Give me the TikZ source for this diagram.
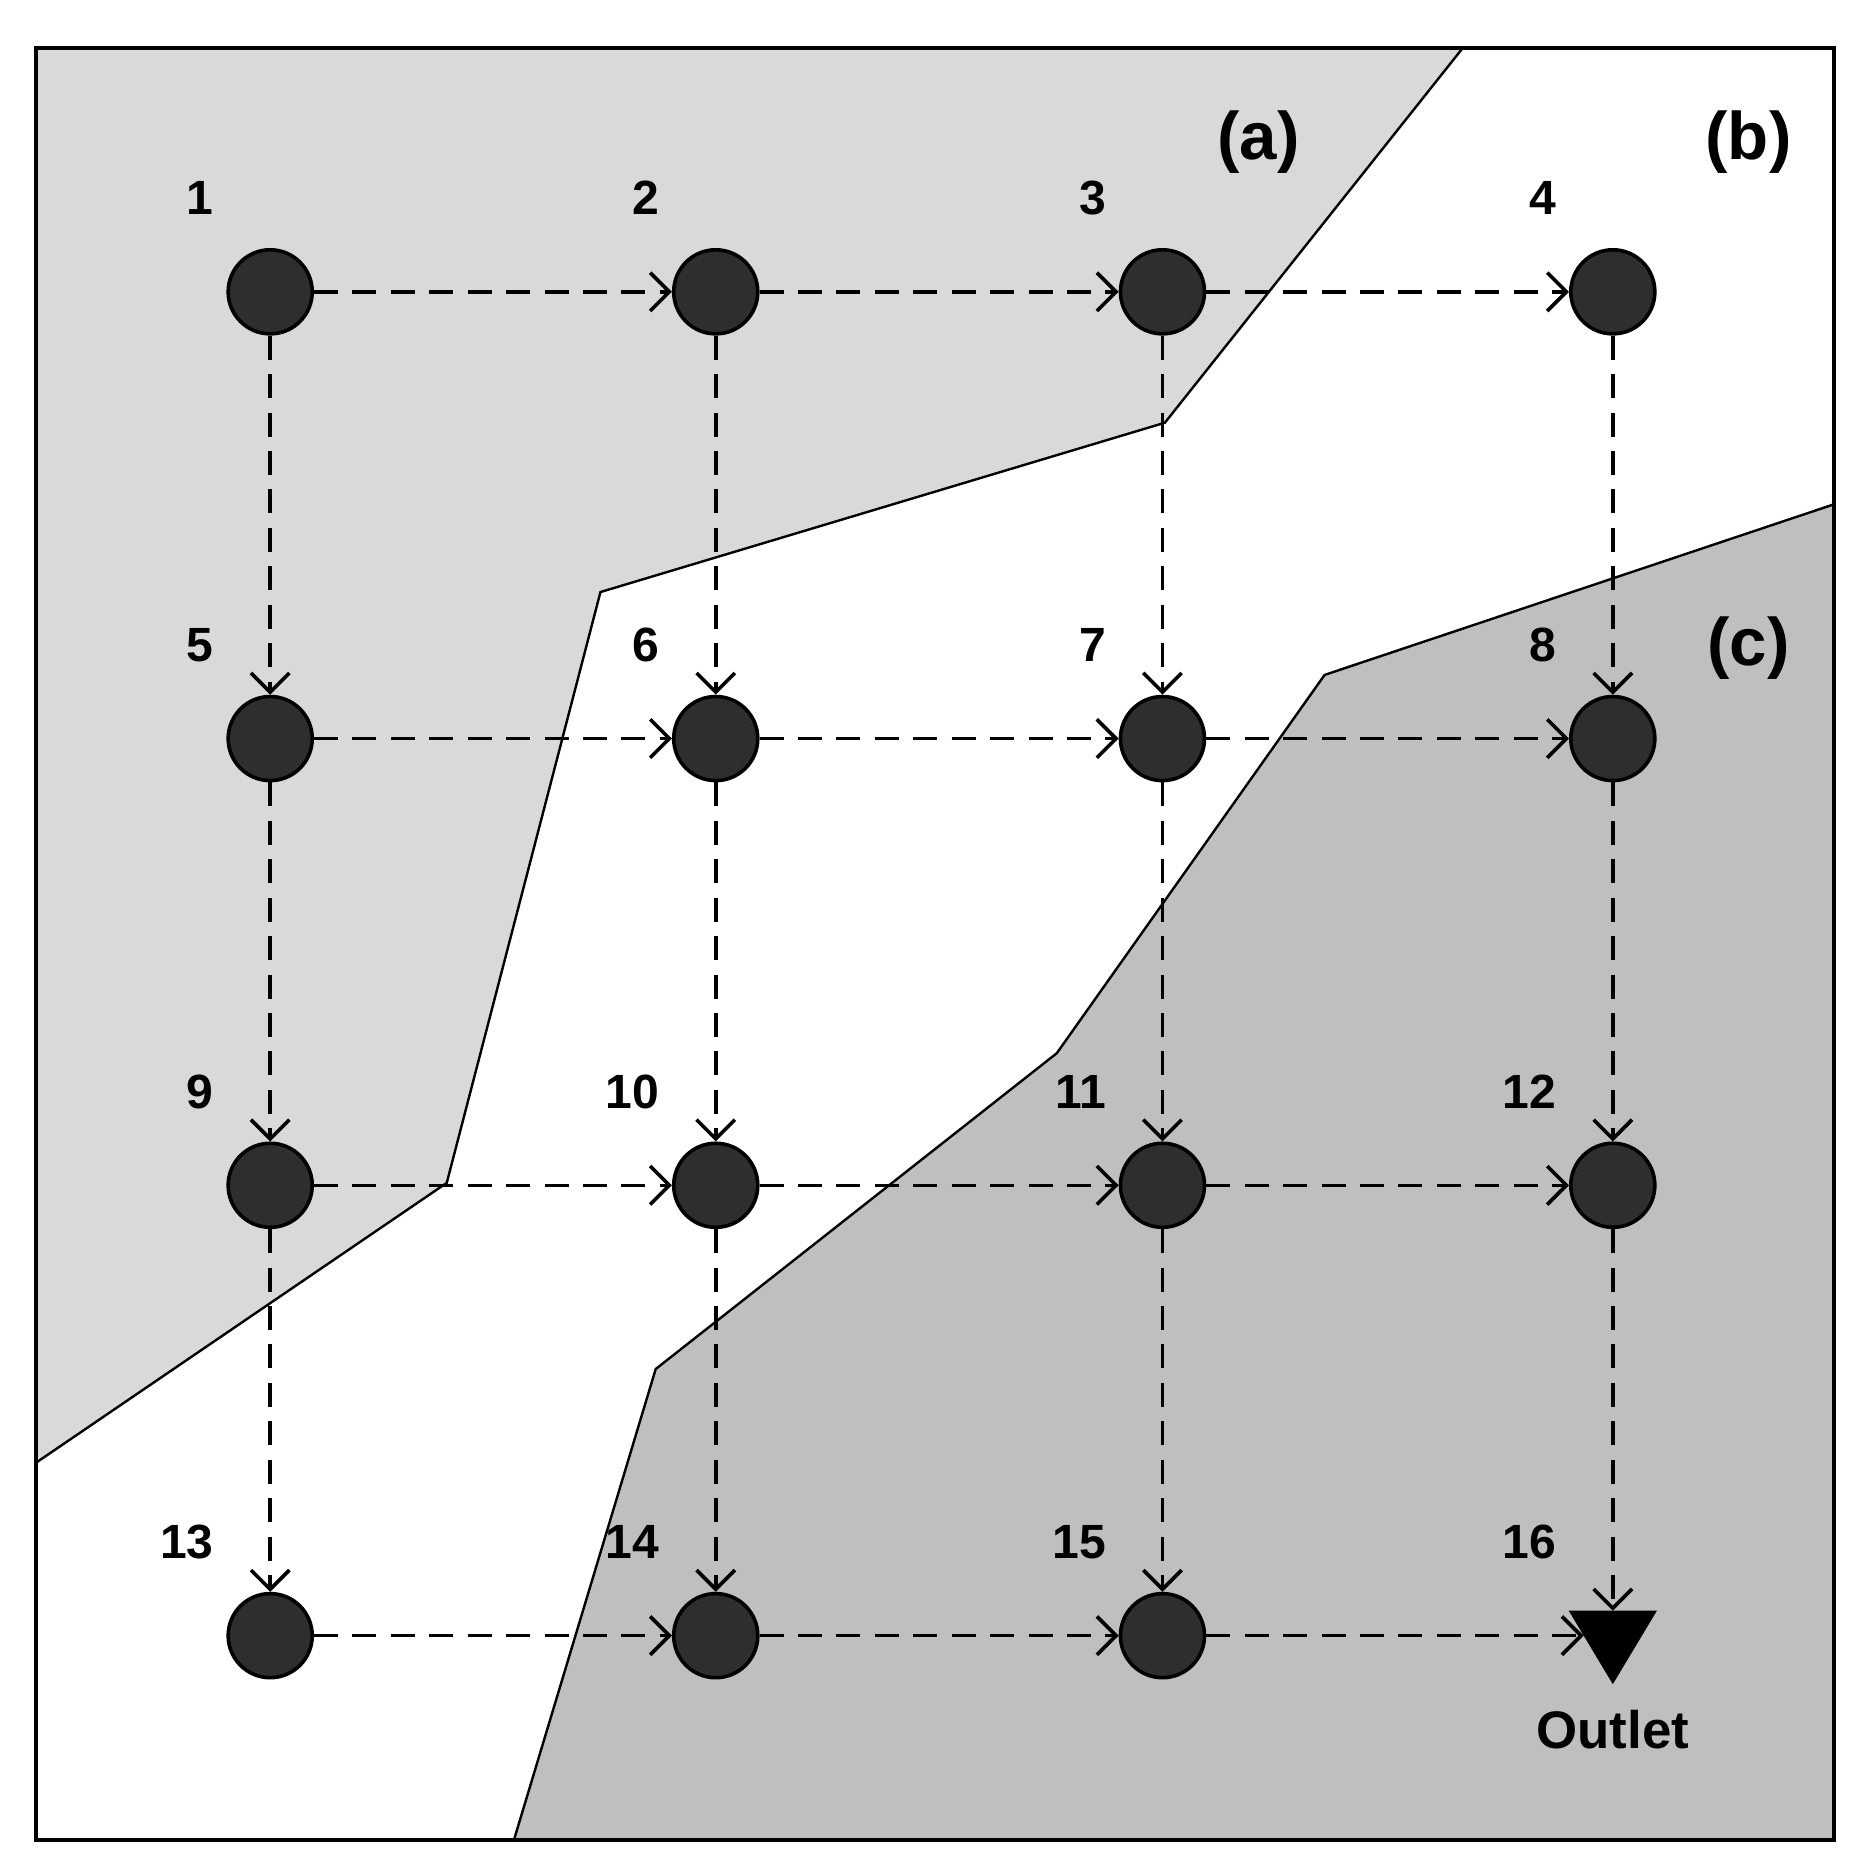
\documentclass[tikz,border=0pt]{standalone}
\usepackage{fontspec}
\setmainfont{Liberation Sans}
\usetikzlibrary{arrows.meta,shapes.geometric}
\begin{document}
\begin{tikzpicture}[x=0.5pt,y=-0.5pt,
  nd/.style={circle,draw=black,fill=black!82,line width=1.5pt,minimum size=35pt,inner sep=0pt},
  num/.style={font=\fontsize{20}{20}\selectfont\bfseries},
  reg/.style={font=\fontsize{28}{28}\selectfont\bfseries},
  flow/.style={dashed,dash pattern=on 10pt off 6pt,line width=1.5pt,-{Straight Barb[length=8pt,width=16pt,line width=1.5pt]}}]
\useasboundingbox (0,0) rectangle (1550,1553);
\fill[black!15] (30,40) -- (1218,40) -- (970,352) -- (500,493) -- (372,985) -- (30,1218) -- cycle;
\draw[line width=1pt] (1218,40) -- (970,352) -- (500,493) -- (372,985) -- (30,1218);
\fill[black!25] (1527,420) -- (1103,562) -- (880,877) -- (546,1140) -- (428,1532) -- (1527,1532) -- cycle;
\draw[line width=1pt] (1527,420) -- (1103,562) -- (880,877) -- (546,1140) -- (428,1532);
\draw[line width=1.5pt] (30,40) rectangle (1527,1532);
\foreach \r/\y in {0/243,1/615,2/987,3/1362}{
  \foreach \c/\x in {1/225,2/596,3/968,4/1343}{
    \pgfmathtruncatemacro{\n}{\r*4+\c}
    \ifnum\n=16
      \node[isosceles triangle,shape border rotate=-90,fill=black,draw=black,minimum width=36pt,minimum height=30pt,inner sep=0pt,isosceles triangle stretches] (n16) at (\x,\y) {};
    \else
      \node[nd] (n\n) at (\x,\y) {};
    \fi
    \node[num,anchor=east] at (\x-40,\y-78) {\n};
  }}
\foreach \a/\b in {1/2,2/3,3/4,5/6,6/7,7/8,9/10,10/11,11/12,13/14,14/15}
  \draw[flow] (n\a) -- (n\b);
\draw[flow] (n15) -- (n16.west);
\foreach \a/\b in {1/5,2/6,3/7,4/8,5/9,6/10,7/11,8/12,9/13,10/14,11/15}
  \draw[flow] (n\a) -- (n\b);
\draw[flow] (n12) -- (n16.north);
\node[reg] at (1048,118) {(a)};
\node[reg] at (1456,118) {(b)};
\node[reg] at (1456,540) {(c)};
\node[font=\fontsize{22}{22}\selectfont\bfseries] (out) at (1343,1440) {Outlet};
\end{tikzpicture}
\end{document}
